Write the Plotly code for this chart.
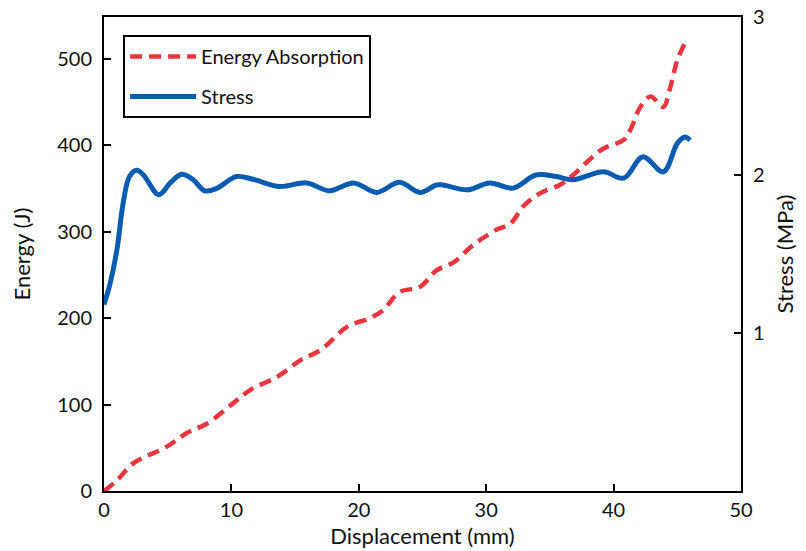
import plotly.graph_objects as go

# Energy absorption (J) vs displacement (mm)
energy_x = [0, 1.0, 2.3, 4.9, 6.5, 8.1, 10.1, 11.5, 13.6, 15.4, 17.0, 19.1, 20.9, 21.9, 23.2, 24.8,
            26.1, 27.5, 28.7, 29.5, 30.8, 31.9, 32.9, 34.2, 35.8, 36.8, 38.1, 39.2, 40.8, 41.3,
            42.1, 42.9, 43.9, 44.4, 45.0, 45.6]
energy_y = [0, 12, 32, 51, 67, 78, 101, 117, 132, 151, 163, 190, 200, 209, 230, 236,
            255, 265, 281, 290, 302, 309, 329, 344, 354, 365, 383, 396, 406, 417,
            444, 456, 444, 464, 498, 518]

# Stress (MPa) vs displacement (mm)
stress_x = [0, 0.47, 1.0, 1.5, 2.0, 2.57, 3.1, 4.3, 5.2, 6.1, 7.0, 7.9, 8.85, 10.4, 11.7, 13.8,
            15.9, 17.7, 19.6, 21.4, 23.2, 24.8, 26.1, 26.6, 28.5, 30.3, 32.1, 33.9, 35.5, 36.8,
            39.2, 40.8, 42.3, 43.9, 45.0, 45.6, 46.0]
stress_y = [1.18, 1.31, 1.52, 1.82, 1.99, 2.03, 2.0, 1.875, 1.95, 2.005, 1.97, 1.90, 1.915, 1.99, 1.973, 1.927,
            1.95, 1.90, 1.95, 1.89, 1.954, 1.89, 1.937, 1.937, 1.906, 1.95, 1.917, 2.0, 1.99, 1.97,
            2.02, 1.98, 2.115, 2.02, 2.20, 2.24, 2.22]

x_ticks = [0, 10, 20, 30, 40, 50]
energy_ticks = [0, 100, 200, 300, 400, 500]
stress_ticks = [1, 2, 3]

FONT = "Lato"

fig = go.Figure()
fig.add_trace(go.Scatter(x=energy_x, y=energy_y, mode="lines", name="Energy Absorption",
                         line=dict(color="#e8363f", width=4.5, dash="12px,7px", shape="spline"),
                         legendgroup="a"))
fig.add_trace(go.Scatter(x=stress_x, y=stress_y, mode="lines", name="Stress", yaxis="y2",
                         line=dict(color="#0a5cb0", width=5, shape="spline"),
                         legendgroup="b"))

axis_common = dict(showline=True, linecolor="black", linewidth=2, ticks="inside", ticklen=7,
                   tickwidth=2, tickcolor="black", showgrid=False, zeroline=False,
                   automargin=False,
                   tickfont=dict(family=FONT, size=20, color="#111111"))

fig.update_layout(
    width=806, height=551,
    margin=dict(l=104, r=65, t=17, b=60),
    paper_bgcolor="white", plot_bgcolor="white",
    font=dict(family=FONT, color="#111111"),
    xaxis=dict(range=[0, 50], tickvals=x_ticks, mirror=True, ticklabelstandoff=0,
               title=dict(text="Displacement (mm)", font=dict(family=FONT, size=22), standoff=9),
               **axis_common),
    yaxis=dict(range=[0, 548], tickvals=energy_ticks, ticklabelstandoff=6,
               title=dict(text="Energy (J)", font=dict(family=FONT, size=22), standoff=20),
               **axis_common),
    yaxis2=dict(range=[0, 3], tickvals=stress_ticks, overlaying="y", side="right", ticklabelstandoff=6,
                title=dict(text="Stress (MPa)", font=dict(family=FONT, size=22), standoff=14),
                **axis_common),
    legend=dict(x=0.03, y=0.962, xanchor="left", yanchor="top", bordercolor="black", borderwidth=2,
                bgcolor="white", font=dict(family=FONT, size=20, color="#111111"), tracegroupgap=11,
                traceorder="grouped", itemwidth=66),
    showlegend=True,
)

fig.write_html("out.html")
